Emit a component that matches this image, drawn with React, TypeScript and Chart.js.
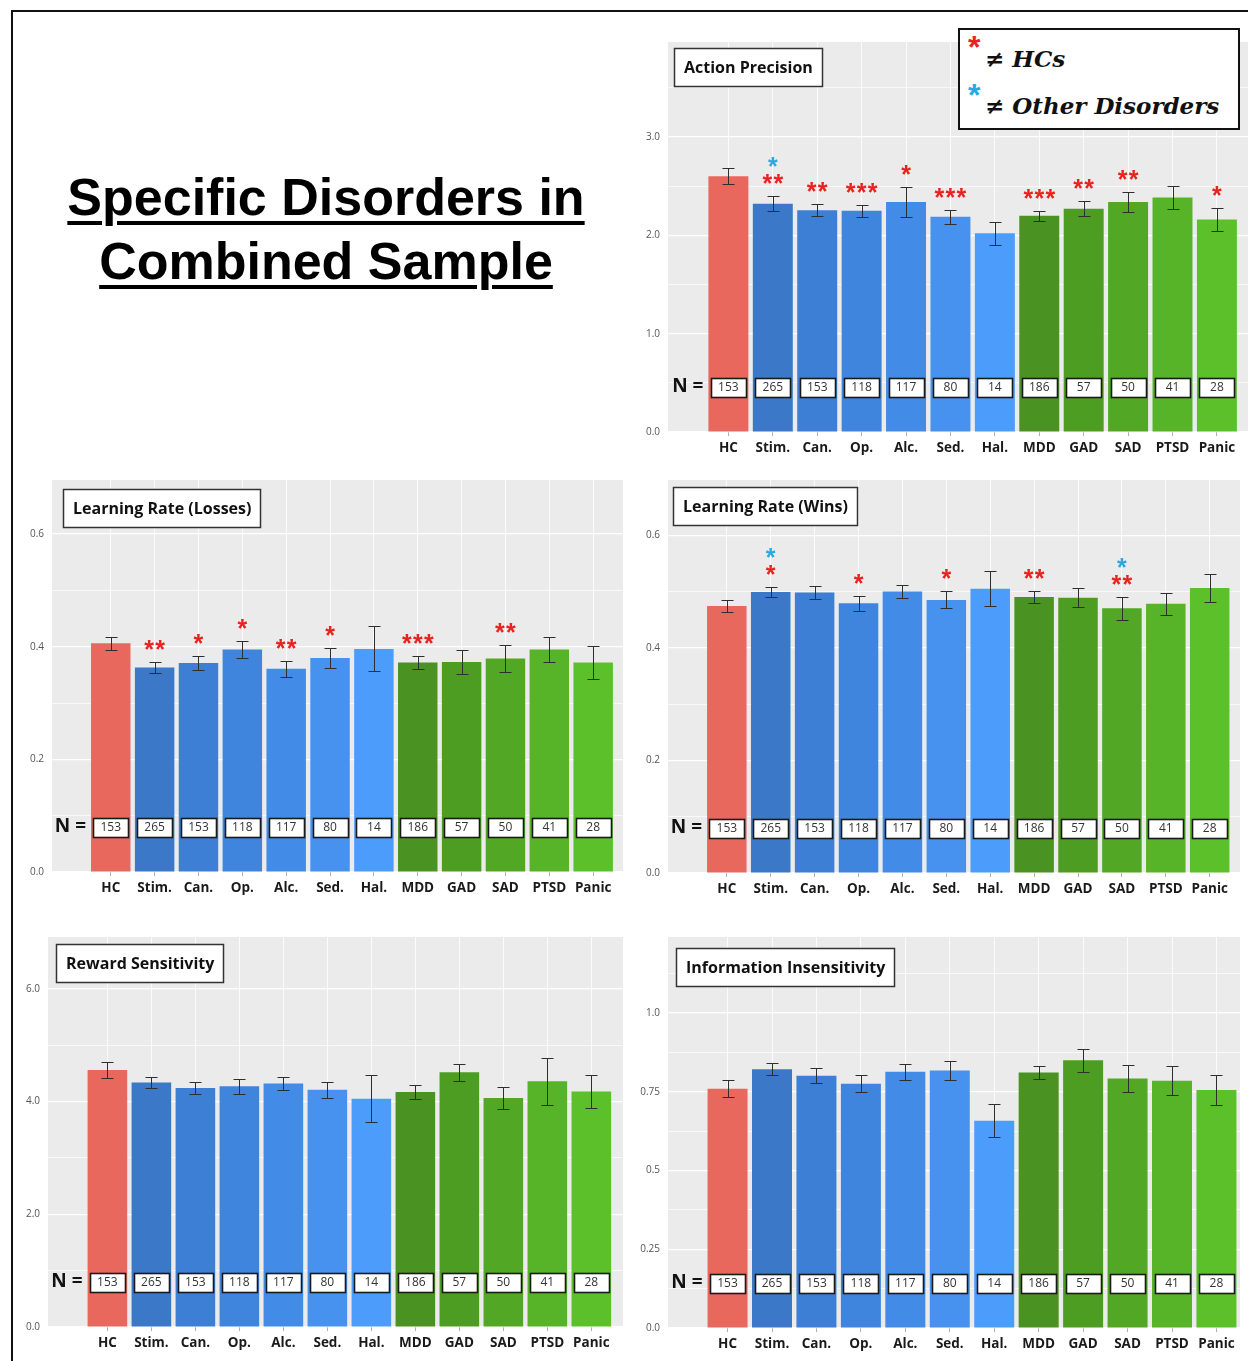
import React, { useEffect, useRef } from 'react';
import { Chart, registerables } from 'chart.js';

Chart.register(...registerables);

// ---------- data ----------
const CATEGORIES = ['HC', 'Stim.', 'Can.', 'Op.', 'Alc.', 'Sed.', 'Hal.', 'MDD', 'GAD', 'SAD', 'PTSD', 'Panic'];
const SAMPLE_SIZES = [153, 265, 153, 118, 117, 80, 14, 186, 57, 50, 41, 28];
const BAR_COLORS = ['#e8685e', '#3b78c8', '#3d7fd4', '#3f85dd', '#428be6', '#4792ef', '#4c9cfb', '#4a9322', '#4e9d23', '#52a825', '#57b327', '#5cc02b'];

// Action Precision
const AP_MEANS = [2.6, 2.32, 2.255, 2.25, 2.34, 2.19, 2.02, 2.2, 2.27, 2.34, 2.385, 2.16];
const AP_SE = [0.08, 0.077, 0.06, 0.06, 0.155, 0.07, 0.115, 0.05, 0.077, 0.105, 0.12, 0.12];
const AP_STARS_HC = ['', '**', '**', '***', '*', '***', '', '***', '**', '**', '', '*'];
const AP_STARS_OTHER = ['', '*', '', '', '', '', '', '', '', '', '', ''];
const AP_Y_GRID = [0, 0.5, 1, 1.5, 2, 2.5, 3, 3.5];
const AP_Y_LABEL_VALUES = [0, 1, 2, 3];
const AP_Y_LABELS = ['0.0', '1.0', '2.0', '3.0'];

// Learning Rate (Losses)
const LRL_MEANS = [0.406, 0.363, 0.371, 0.395, 0.361, 0.38, 0.396, 0.372, 0.373, 0.379, 0.395, 0.372];
const LRL_SE = [0.011, 0.01, 0.012, 0.015, 0.014, 0.017, 0.04, 0.011, 0.021, 0.024, 0.023, 0.03];
const LRL_STARS_HC = ['', '**', '*', '*', '**', '*', '', '***', '', '**', '', ''];
const LRL_STARS_OTHER = ['', '', '', '', '', '', '', '', '', '', '', ''];

// Learning Rate (Wins)
const LRW_MEANS = [0.474, 0.499, 0.498, 0.479, 0.5, 0.485, 0.505, 0.49, 0.489, 0.47, 0.478, 0.506];
const LRW_SE = [0.011, 0.009, 0.011, 0.013, 0.012, 0.015, 0.031, 0.01, 0.017, 0.021, 0.019, 0.025];
const LRW_STARS_HC = ['', '*', '', '*', '', '*', '', '**', '', '**', '', ''];
const LRW_STARS_OTHER = ['', '*', '', '', '', '', '', '', '', '*', '', ''];

const LR_Y_GRID = [0, 0.1, 0.2, 0.3, 0.4, 0.5, 0.6];
const LR_Y_LABEL_VALUES = [0, 0.2, 0.4, 0.6];
const LR_Y_LABELS = ['0.0', '0.2', '0.4', '0.6'];

// Reward Sensitivity
const RS_MEANS = [4.56, 4.34, 4.24, 4.27, 4.32, 4.21, 4.05, 4.17, 4.52, 4.065, 4.36, 4.18];
const RS_SE = [0.135, 0.1, 0.11, 0.13, 0.12, 0.14, 0.42, 0.125, 0.155, 0.2, 0.415, 0.295];
const RS_Y_GRID = [0, 1, 2, 3, 4, 5, 6];
const RS_Y_LABEL_VALUES = [0, 2, 4, 6];
const RS_Y_LABELS = ['0.0', '2.0', '4.0', '6.0'];

// Information Insensitivity
const II_MEANS = [0.759, 0.821, 0.801, 0.775, 0.813, 0.817, 0.658, 0.811, 0.85, 0.792, 0.785, 0.755];
const II_SE = [0.027, 0.019, 0.024, 0.027, 0.026, 0.03, 0.052, 0.021, 0.036, 0.042, 0.047, 0.048];
const II_Y_GRID = [0, 0.125, 0.25, 0.375, 0.5, 0.625, 0.75, 0.875, 1, 1.125];
const II_Y_LABEL_VALUES = [0, 0.25, 0.5, 0.75, 1];
const II_Y_LABELS = ['0.0', '0.25', '0.5', '0.75', '1.0'];

const NO_STARS = ['', '', '', '', '', '', '', '', '', '', '', ''];

// ---------- styling / layout ----------
const Y_AXIS_W = 40;
const X_AXIS_H = 34;
const PAD_TOP = 18;
const CAP = 6;
const STAR_SIZE = 25;
const STAR_GAP = 11;
const RED = '#e8231f';
const BLUE = '#2aa9df';
const LABEL_FONT = '"Open Sans", Lato, sans-serif';

type Layout = { left: number; top: number; right: number; bottom: number; xMin: number; xMax: number; titleDx: number; titleDy: number };
type PanelSpec = {
  title: string;
  means: number[];
  se: number[];
  starsHC: string[];
  starsOther: string[];
  yMax: number;
  yGrid: number[];
  yLabelValues: number[];
  yLabels: string[];
  layout: Layout;
};

const PANELS: PanelSpec[] = [
  {
    title: 'Action Precision', means: AP_MEANS, se: AP_SE, starsHC: AP_STARS_HC, starsOther: AP_STARS_OTHER,
    yMax: 3.966, yGrid: AP_Y_GRID, yLabelValues: AP_Y_LABEL_VALUES, yLabels: AP_Y_LABELS,
    layout: { left: 668, top: 42, right: 1248, bottom: 432, xMin: -1.36, xMax: 11.7, titleDx: 6, titleDy: 6 },
  },
  {
    title: 'Learning Rate (Losses)', means: LRL_MEANS, se: LRL_SE, starsHC: LRL_STARS_HC, starsOther: LRL_STARS_OTHER,
    yMax: 0.696, yGrid: LR_Y_GRID, yLabelValues: LR_Y_LABEL_VALUES, yLabels: LR_Y_LABELS,
    layout: { left: 52, top: 480, right: 623, bottom: 872, xMin: -1.34, xMax: 11.68, titleDx: 11, titleDy: 9 },
  },
  {
    title: 'Learning Rate (Wins)', means: LRW_MEANS, se: LRW_SE, starsHC: LRW_STARS_HC, starsOther: LRW_STARS_OTHER,
    yMax: 0.698, yGrid: LR_Y_GRID, yLabelValues: LR_Y_LABEL_VALUES, yLabels: LR_Y_LABELS,
    layout: { left: 668, top: 480, right: 1240, bottom: 873, xMin: -1.34, xMax: 11.69, titleDx: 5, titleDy: 7 },
  },
  {
    title: 'Reward Sensitivity', means: RS_MEANS, se: RS_SE, starsHC: NO_STARS, starsOther: NO_STARS,
    yMax: 6.92, yGrid: RS_Y_GRID, yLabelValues: RS_Y_LABEL_VALUES, yLabels: RS_Y_LABELS,
    layout: { left: 48, top: 937, right: 623, bottom: 1327, xMin: -1.35, xMax: 11.72, titleDx: 8, titleDy: 7 },
  },
  {
    title: 'Information Insensitivity', means: II_MEANS, se: II_SE, starsHC: NO_STARS, starsOther: NO_STARS,
    yMax: 1.241, yGrid: II_Y_GRID, yLabelValues: II_Y_LABEL_VALUES, yLabels: II_Y_LABELS,
    layout: { left: 668, top: 937, right: 1240, bottom: 1328, xMin: -1.34, xMax: 11.53, titleDx: 8, titleDy: 11 },
  },
];

const bgPlugin = {
  id: 'panelBg',
  beforeDraw(chart: any) {
    const { ctx, chartArea: a } = chart;
    ctx.save();
    ctx.fillStyle = '#ebebeb';
    ctx.fillRect(a.left, a.top, a.right - a.left, a.bottom - a.top);
    ctx.restore();
  },
};

function overlayPlugin(p: PanelSpec) {
  return {
    id: 'overlay',
    afterDatasetsDraw(chart: any) {
      const { ctx, chartArea: a, scales } = chart;
      const xs = scales.x;
      const ys = scales.y;
      const meta = chart.getDatasetMeta(0);
      ctx.save();

      // error bars
      ctx.strokeStyle = '#2e2e2e';
      ctx.lineWidth = 1;
      p.means.forEach((m, i) => {
        const x = Math.round(xs.getPixelForValue(i)) + 0.5;
        const yt = Math.round(ys.getPixelForValue(m + p.se[i])) + 0.5;
        const yb = Math.round(ys.getPixelForValue(m - p.se[i])) + 0.5;
        ctx.beginPath();
        ctx.moveTo(x, yt); ctx.lineTo(x, yb);
        ctx.moveTo(x - CAP, yt); ctx.lineTo(x + CAP, yt);
        ctx.moveTo(x - CAP, yb); ctx.lineTo(x + CAP, yb);
        ctx.stroke();
      });

      // significance stars
      const drawStars = (s: string, x: number, cy: number, color: string) => {
        ctx.fillStyle = color;
        ctx.font = `bold ${STAR_SIZE}px "Liberation Sans", Arial, sans-serif`;
        ctx.textAlign = 'center';
        ctx.textBaseline = 'alphabetic';
        const n = s.length;
        for (let k = 0; k < n; k++) {
          const sx = x + (k - (n - 1) / 2) * STAR_GAP;
          ctx.fillText(s[k], sx, cy + STAR_SIZE * 0.6);
        }
      };
      p.means.forEach((m, i) => {
        const x = xs.getPixelForValue(i);
        const yt = ys.getPixelForValue(m + p.se[i]);
        let cy = yt - 19;
        if (p.starsHC[i]) {
          drawStars(p.starsHC[i], x, cy, RED);
          cy -= 17;
        }
        if (p.starsOther[i]) drawStars(p.starsOther[i], x, cy, BLUE);
      });

      // N boxes
      const boxCy = a.bottom - 45;
      const bw = 35;
      const bh = 19;
      SAMPLE_SIZES.forEach((n, i) => {
        const x = xs.getPixelForValue(i);
        const bx = Math.round(x - bw / 2) + 0.5;
        const by = Math.round(boxCy - bh / 2) + 0.5;
        ctx.fillStyle = '#ffffff';
        ctx.fillRect(bx, by, bw, bh);
        ctx.strokeStyle = '#1a1a1a';
        ctx.lineWidth = 1.6;
        ctx.strokeRect(bx, by, bw, bh);
        ctx.fillStyle = '#333333';
        ctx.font = `12px ${LABEL_FONT}`;
        ctx.textAlign = 'center';
        ctx.textBaseline = 'middle';
        ctx.fillText(String(n), x, boxCy + 1);
      });
      const first = meta.data[0];
      ctx.fillStyle = '#111111';
      ctx.font = `bold 19px ${LABEL_FONT}`;
      ctx.textAlign = 'right';
      ctx.textBaseline = 'middle';
      ctx.fillText('N =', first.x - first.width / 2 - 5, boxCy);

      // title box
      ctx.font = `bold 16px ${LABEL_FONT}`;
      const tw = ctx.measureText(p.title).width;
      const tx = Math.round(a.left + p.layout.titleDx) + 0.5;
      const ty = Math.round(a.top + p.layout.titleDy) + 0.5;
      const tbw = Math.round(tw + 19);
      const tbh = 38;
      ctx.fillStyle = '#ffffff';
      ctx.fillRect(tx, ty, tbw, tbh);
      ctx.strokeStyle = '#333333';
      ctx.lineWidth = 1.5;
      ctx.strokeRect(tx, ty, tbw, tbh);
      ctx.fillStyle = '#111111';
      ctx.textAlign = 'left';
      ctx.textBaseline = 'middle';
      ctx.fillText(p.title, tx + 9.5, ty + tbh / 2 + 1);

      ctx.restore();
    },
  };
}

function buildConfig(p: PanelSpec): any {
  const data = p.means.map((m, i) => ({ x: i, y: m }));
  const isLabelled = (v: number) => p.yLabelValues.some((lv) => Math.abs(lv - v) < 1e-9);
  return {
    type: 'bar',
    data: {
      datasets: [
        {
          data,
          backgroundColor: BAR_COLORS,
          borderWidth: 0,
          barPercentage: 0.9,
          categoryPercentage: 1,
        },
      ],
    },
    options: {
      responsive: false,
      animation: false,
      devicePixelRatio: 1,
      layout: { padding: { top: PAD_TOP, right: 0, left: 0, bottom: 0 } },
      plugins: { legend: { display: false }, tooltip: { enabled: false }, title: { display: false } },
      scales: {
        x: {
          type: 'linear',
          offset: false,
          min: p.layout.xMin,
          max: p.layout.xMax,
          afterBuildTicks: (axis: any) => {
            axis.ticks = CATEGORIES.map((_, i) => ({ value: i }));
          },
          afterFit: (axis: any) => {
            axis.height = X_AXIS_H;
          },
          grid: { offset: false, color: '#ffffff', lineWidth: 0.8, drawTicks: true, tickLength: 4, tickColor: '#9a9a9a' },
          border: { display: false },
          ticks: {
            autoSkip: false,
            maxRotation: 0,
            padding: 4,
            color: '#1a1a1a',
            font: { family: LABEL_FONT, size: 13.5, weight: 'bold' },
            callback: (v: any) => CATEGORIES[Math.round(Number(v))] ?? '',
          },
        },
        y: {
          type: 'linear',
          min: 0,
          max: p.yMax,
          afterBuildTicks: (axis: any) => {
            axis.ticks = p.yGrid.map((v) => ({ value: v }));
          },
          afterFit: (axis: any) => {
            axis.width = Y_AXIS_W;
          },
          grid: {
            color: '#ffffff',
            drawTicks: false,
            lineWidth: (ctx: any) => (ctx.tick && isLabelled(ctx.tick.value) ? 1.2 : 0.7),
          },
          border: { display: false },
          ticks: {
            padding: 8,
            color: '#555555',
            font: { family: LABEL_FONT, size: 10 },
            callback: (v: any) => {
              const idx = p.yLabelValues.findIndex((lv) => Math.abs(lv - Number(v)) < 1e-9);
              return idx >= 0 ? p.yLabels[idx] : '';
            },
          },
        },
      },
    },
    plugins: [bgPlugin, overlayPlugin(p)],
  };
}

function Panel({ spec }: { spec: PanelSpec }) {
  const ref = useRef<HTMLCanvasElement | null>(null);
  const L = spec.layout;
  const cLeft = L.left - Y_AXIS_W;
  const cTop = L.top - PAD_TOP;
  const cW = L.right - cLeft;
  const cH = L.bottom + X_AXIS_H - cTop;
  useEffect(() => {
    if (!ref.current) return;
    const chart = new Chart(ref.current, buildConfig(spec));
    return () => chart.destroy();
  }, [spec]);
  return (
    <canvas
      ref={ref}
      width={cW}
      height={cH}
      style={{ position: 'absolute', left: cLeft, top: cTop, width: cW, height: cH }}
    />
  );
}

export default function App() {
  return (
    <div
      style={{
        position: 'absolute',
        left: 0,
        top: 0,
        width: 1248,
        height: 1361,
        overflow: 'hidden',
        background: '#ffffff',
      }}
    >
      <div
        style={{
          position: 'absolute',
          left: 11,
          top: 10,
          width: 1300,
          height: 1400,
          border: '2px solid #111',
          boxSizing: 'border-box',
        }}
      />
      <div
        style={{
          position: 'absolute',
          left: 26,
          top: 165,
          width: 600,
          textAlign: 'center',
          fontFamily: '"Liberation Sans", Arial, sans-serif',
          fontWeight: 'bold',
          fontSize: 52,
          lineHeight: '64px',
          color: '#000',
          textDecoration: 'underline',
          textDecorationThickness: '4px',
          textUnderlineOffset: '6px',
        }}
      >
        Specific Disorders in
        <br />
        Combined Sample
      </div>
      {PANELS.map((p) => (
        <Panel key={p.title} spec={p} />
      ))}
      <div
        style={{
          position: 'absolute',
          left: 958,
          top: 28,
          width: 282,
          height: 102,
          border: '2px solid #111',
          boxSizing: 'border-box',
          background: '#ffffff',
        }}
      >
        <span
          style={{ position: 'absolute', left: 8, top: 1, font: 'bold 32px "Liberation Sans", Arial, sans-serif', lineHeight: '32px', color: RED }}
        >
          *
        </span>
        <span
          style={{ position: 'absolute', left: 25, top: 17, font: 'italic bold 23px "DejaVu Serif", serif', lineHeight: '23px', color: '#111', whiteSpace: 'nowrap' }}
        >
          ≠ HCs
        </span>
        <span
          style={{ position: 'absolute', left: 8, top: 49, font: 'bold 32px "Liberation Sans", Arial, sans-serif', lineHeight: '32px', color: BLUE }}
        >
          *
        </span>
        <span
          style={{ position: 'absolute', left: 25, top: 64, font: 'italic bold 23px "DejaVu Serif", serif', lineHeight: '23px', color: '#111', whiteSpace: 'nowrap' }}
        >
          ≠ Other Disorders
        </span>
      </div>
    </div>
  );
}
